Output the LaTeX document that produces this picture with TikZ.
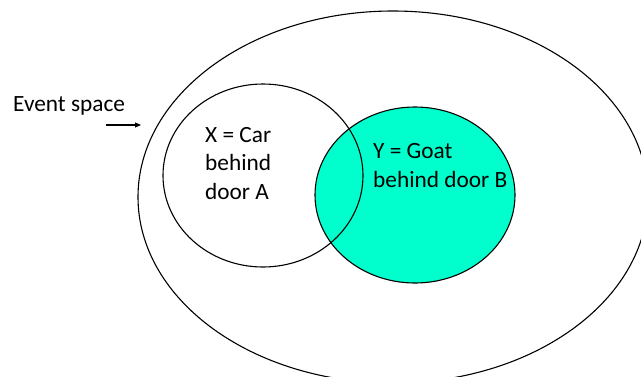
\documentclass[tikz,border=0pt]{standalone}
\usepackage{fontspec}
\setmainfont{Carlito}
\usetikzlibrary{shapes.geometric,arrows.meta}
\definecolor{goatfill}{HTML}{00FFCC}
\tikzset{
  setshape/.style={ellipse, draw=black, line width=1.1pt, inner sep=0pt},
  lbl/.style={inner sep=0pt, align=left, font=\fontsize{23.3}{28.4}\selectfont},
}
\begin{document}
\begin{tikzpicture}[x=1pt,y=-1pt]
\useasboundingbox (0,0) rectangle (641,376);
\node[setshape, minimum width=510pt, minimum height=372pt] (space) at (393,197) {};
\node[setshape, fill=goatfill, minimum width=200pt, minimum height=176pt] (Y) at (415,195) {};
\node[setshape, minimum width=200pt, minimum height=183pt] (X) at (263,175.5) {};
\node[lbl, anchor=base west] (xl) at (205,199) {X = Car\\behind\\door A};
\node[lbl, anchor=base west] (yl) at (373,187) {Y = Goat\\behind door B};
\node[lbl, anchor=base west] (ev) at (13,111) {Event space};
\coordinate (atail) at (106,125);
\coordinate (ahead) at (141,125);
\draw[line width=1.1pt, -{Triangle[length=6pt,width=5pt]}] (atail) -- (ahead);
\end{tikzpicture}
\end{document}
